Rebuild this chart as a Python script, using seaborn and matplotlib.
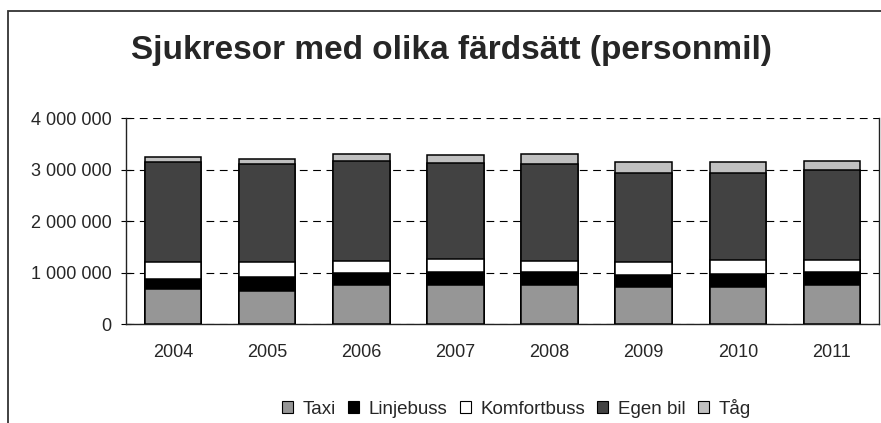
import numpy as np
import pandas as pd
import matplotlib
matplotlib.use('Agg')
import matplotlib.pyplot as plt
import seaborn as sns
from matplotlib.patches import Patch, Rectangle
from matplotlib.ticker import FuncFormatter, FixedLocator

# Data (personmil)
years = ['2004', '2005', '2006', '2007', '2008', '2009', '2010', '2011']
taxi = [685000, 652000, 757000, 757000, 757000, 724000, 724000, 757000]
linjebuss = [195000, 266000, 233000, 253000, 253000, 233000, 259000, 259000]
komfortbuss = [324000, 286000, 245000, 264000, 225000, 247000, 260000, 227000]
egen_bil = [1942000, 1909000, 1936000, 1864000, 1872000, 1740000, 1701000, 1759000]
tag = [102000, 103000, 142000, 149000, 206000, 202000, 202000, 175000]

series_names = ['Taxi', 'Linjebuss', 'Komfortbuss', 'Egen bil', 'Tåg']
series_values = [taxi, linjebuss, komfortbuss, egen_bil, tag]
colors = ['#969696', '#000000', '#ffffff', '#424242', '#c0c0c0']

sns.set_style('white')
plt.rcParams['font.family'] = ['Liberation Sans', 'DejaVu Sans']

df = pd.DataFrame(dict(zip(series_names, series_values)), index=years)
cum = df.cumsum(axis=1)

fig = plt.figure(figsize=(8.81, 4.23), dpi=100)
ax = fig.add_axes([126 / 881, 1 - 324.3 / 423, (879 - 126) / 881, (324.3 - 118.3) / 423])

# stacked bars: draw cumulative totals from the top layer down
for name, color in reversed(list(zip(series_names, colors))):
    sns.barplot(x=years, y=cum[name].values, color=color, edgecolor='black',
                linewidth=1.1, width=0.6, saturation=1, ax=ax, zorder=3)

ax.set_ylim(0, 4000000)
ax.set_xlim(-0.5, len(years) - 0.5)
ax.set_yticks([0, 1000000, 2000000, 3000000, 4000000])
ax.yaxis.set_major_formatter(FuncFormatter(lambda v, p: f'{int(v):,}'.replace(',', ' ')))
ax.yaxis.grid(True, color='black', linestyle=(0, (7, 5)), linewidth=0.8)
ax.set_axisbelow(True)

ax.xaxis.set_minor_locator(FixedLocator(np.arange(-0.5, len(years), 1.0)))
ax.tick_params(axis='x', which='major', length=0, pad=14, labelsize=13)
ax.tick_params(axis='x', which='minor', length=4, width=0.8, direction='out', color='black')
ax.tick_params(axis='y', which='major', length=7, width=0.8, direction='inout', color='black',
               pad=7, labelsize=13, left=True)
ax.set_xlabel('')
ax.set_ylabel('')

for side in ['left', 'bottom', 'right']:
    ax.spines[side].set_visible(True)
    ax.spines[side].set_color('#222222')
    ax.spines[side].set_linewidth(1.0)
ax.spines['top'].set_visible(False)

fig.text(0.5125, 1 - 59 / 423, 'Sjukresor med olika färdsätt (personmil)',
         ha='center', va='baseline', fontsize=24, fontweight='bold')

handles = [Patch(facecolor=c, edgecolor='black', linewidth=0.8, label=n)
           for n, c in zip(series_names, colors)]
fig.legend(handles=handles, loc='center', bbox_to_anchor=(0.586, 0.035), ncol=5,
           frameon=False, fontsize=13.5, handlelength=0.6, handleheight=0.6,
           handletextpad=0.5, columnspacing=0.65)

fig.patches.append(Rectangle((8 / 881, -0.1), 1.2, 1.1 - 11 / 423, transform=fig.transFigure,
                             fill=False, edgecolor='#333333', linewidth=1.3, figure=fig))

fig.savefig('out.png', dpi=100)
